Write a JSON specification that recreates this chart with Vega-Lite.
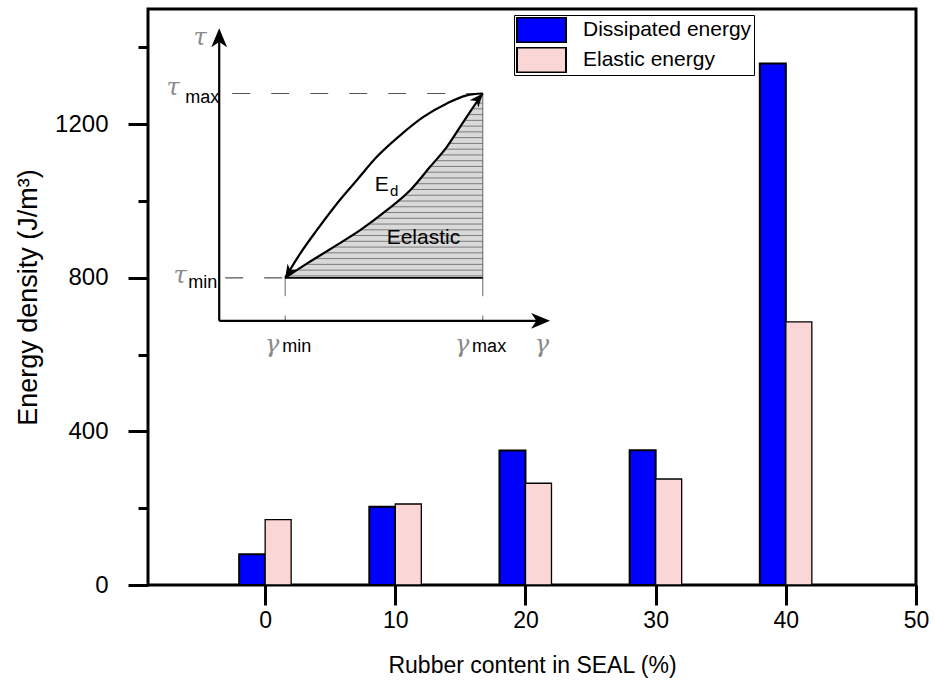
{
  "$schema": "https://vega.github.io/schema/vega-lite/v6.json",
  "width": 768,
  "height": 576,
  "autosize": {"type": "none"},
  "padding": {"left": 148, "top": 9, "right": 18, "bottom": 104},
  "config": {
    "view": {"stroke": "black", "strokeWidth": 3},
    "font": "Liberation Sans"
  },
  "datasets": {
    "bars": [
      {"rubber": 0, "series": "Dissipated energy", "energy": 80},
      {"rubber": 10, "series": "Dissipated energy", "energy": 204},
      {"rubber": 20, "series": "Dissipated energy", "energy": 350},
      {"rubber": 30, "series": "Dissipated energy", "energy": 351},
      {"rubber": 40, "series": "Dissipated energy", "energy": 1358},
      {"rubber": 0, "series": "Elastic energy", "energy": 170},
      {"rubber": 10, "series": "Elastic energy", "energy": 211},
      {"rubber": 20, "series": "Elastic energy", "energy": 265},
      {"rubber": 30, "series": "Elastic energy", "energy": 276},
      {"rubber": 40, "series": "Elastic energy", "energy": 685}
    ],
    "curves": [
      {"curve": "upper", "gx": 1.54, "gy": 800},
      {"curve": "upper", "gx": 2.69, "gy": 863},
      {"curve": "upper", "gx": 3.97, "gy": 924},
      {"curve": "upper", "gx": 5.51, "gy": 993},
      {"curve": "upper", "gx": 7.04, "gy": 1054},
      {"curve": "upper", "gx": 8.58, "gy": 1115},
      {"curve": "upper", "gx": 10.37, "gy": 1171},
      {"curve": "upper", "gx": 12.16, "gy": 1219},
      {"curve": "upper", "gx": 13.96, "gy": 1254},
      {"curve": "upper", "gx": 15.49, "gy": 1275},
      {"curve": "upper", "gx": 16.72, "gy": 1280},
      {"curve": "lower", "gx": 1.54, "gy": 800},
      {"curve": "lower", "gx": 3.2, "gy": 837},
      {"curve": "lower", "gx": 5.25, "gy": 880},
      {"curve": "lower", "gx": 7.3, "gy": 924},
      {"curve": "lower", "gx": 9.35, "gy": 976},
      {"curve": "lower", "gx": 11.14, "gy": 1028},
      {"curve": "lower", "gx": 12.67, "gy": 1089},
      {"curve": "lower", "gx": 13.96, "gy": 1141},
      {"curve": "lower", "gx": 14.98, "gy": 1193},
      {"curve": "lower", "gx": 16.0, "gy": 1245},
      {"curve": "lower", "gx": 16.72, "gy": 1280}
    ],
    "hatch": [
      {"hy": 805, "hx": 1.76}, {"hy": 820, "hx": 2.44}, {"hy": 835, "hx": 3.11},
      {"hy": 850, "hx": 3.82}, {"hy": 865, "hx": 4.54}, {"hy": 880, "hx": 5.25},
      {"hy": 895, "hx": 5.95}, {"hy": 910, "hx": 6.65}, {"hy": 925, "hx": 7.34},
      {"hy": 940, "hx": 7.93}, {"hy": 955, "hx": 8.52}, {"hy": 970, "hx": 9.11},
      {"hy": 985, "hx": 9.66}, {"hy": 1000, "hx": 10.18}, {"hy": 1015, "hx": 10.69},
      {"hy": 1030, "hx": 11.19}, {"hy": 1045, "hx": 11.57}, {"hy": 1060, "hx": 11.94},
      {"hy": 1075, "hx": 12.32}, {"hy": 1090, "hx": 12.69}, {"hy": 1105, "hx": 13.07},
      {"hy": 1120, "hx": 13.44}, {"hy": 1135, "hx": 13.81}, {"hy": 1150, "hx": 14.14},
      {"hy": 1165, "hx": 14.43}, {"hy": 1180, "hx": 14.72}, {"hy": 1195, "hx": 15.02},
      {"hy": 1210, "hx": 15.31}, {"hy": 1225, "hx": 15.61}, {"hy": 1240, "hx": 15.9},
      {"hy": 1255, "hx": 16.21}, {"hy": 1270, "hx": 16.52}
    ]
  },
  "layer": [
    {
      "data": {"name": "bars"},
      "transform": [{"filter": "datum.series === 'Dissipated energy'"}],
      "mark": {"type": "bar", "orient": "vertical", "width": 26, "xOffset": -13, "stroke": "black", "strokeWidth": 2},
      "encoding": {
        "x": {
          "field": "rubber",
          "type": "quantitative",
          "scale": {"domain": [-9, 50], "nice": false, "zero": false, "padding": 0},
          "axis": {
            "values": [0, 10, 20, 30, 40, 50],
            "format": "d",
            "domain": false,
            "grid": false,
            "tickSize": 20,
            "tickWidth": 3,
            "tickColor": "black",
            "labelFontSize": 23,
            "labelColor": "black",
            "labelPadding": 4,
            "labelFlush": false,
            "labelOverlap": false,
            "title": "Rubber content in SEAL (%)",
            "titleFontSize": 23,
            "titleFontWeight": "normal",
            "titleColor": "black",
            "titlePadding": 22
          }
        },
        "y": {
          "field": "energy",
          "type": "quantitative",
          "scale": {"domain": [0, 1500], "nice": false, "zero": true, "padding": 0},
          "axis": {
            "values": [0, 200, 400, 600, 800, 1000, 1200, 1400],
            "format": "d",
            "domain": false,
            "grid": false,
            "tickSize": {"condition": {"test": "datum.value % 400 === 0", "value": 20}, "value": 10},
            "tickWidth": 3,
            "tickColor": "black",
            "labelExpr": "datum.value % 400 === 0 ? datum.label : ''",
            "labelFontSize": 24,
            "labelColor": "black",
            "labelPadding": 20,
            "labelOverlap": false,
            "title": "Energy density (J/m³)",
            "titleFontSize": 27,
            "titleFontWeight": "normal",
            "titleColor": "black",
            "titlePadding": 12
          }
        },
        "color": {
          "field": "series",
          "type": "nominal",
          "scale": {"domain": ["Dissipated energy", "Elastic energy"], "range": ["#0000ff", "#fbd6d6"]},
          "legend": {
            "title": null,
            "orient": "none",
            "legendX": 366,
            "legendY": 6,
            "symbolType": "M-1,-0.51H1V0.51H-1Z",
            "symbolSize": 2401,
            "symbolStrokeColor": "black",
            "symbolStrokeWidth": 2,
            "symbolOpacity": 1,
            "clipHeight": 26,
            "labelFontSize": 21,
            "labelColor": "black",
            "labelOffset": 16,
            "labelLimit": 400,
            "padding": 2,
            "rowPadding": 4,
            "strokeColor": "black",
            "fillColor": "white"
          }
        }
      }
    },
    {
      "data": {"name": "bars"},
      "transform": [{"filter": "datum.series === 'Elastic energy'"}],
      "mark": {"type": "bar", "orient": "vertical", "width": 26, "xOffset": 13, "stroke": "black", "strokeWidth": 1.3},
      "encoding": {
        "x": {"field": "rubber", "type": "quantitative"},
        "y": {"field": "energy", "type": "quantitative"},
        "color": {"field": "series", "type": "nominal"}
      }
    },
    {
      "data": {"name": "curves"},
      "transform": [{"filter": "datum.curve === 'lower'"}],
      "mark": {"type": "area", "orient": "horizontal", "interpolate": "monotone", "fill": "#d9d9d9"},
      "encoding": {
        "x": {"field": "gx", "type": "quantitative"},
        "x2": {"datum": 16.72},
        "y": {"field": "gy", "type": "quantitative"}
      }
    },
    {
      "data": {"name": "hatch"},
      "mark": {"type": "rule", "stroke": "#7c7c7c", "strokeWidth": 1},
      "encoding": {
        "x": {"field": "hx", "type": "quantitative"},
        "x2": {"datum": 16.72},
        "y": {"field": "hy", "type": "quantitative"}
      }
    },
    {
      "data": {"values": [
        {"gx": -2.53, "gx2": 16.4, "gy": 1280, "gy2": 1280},
        {"gx": -3.07, "gx2": 1.4, "gy": 800, "gy2": 800}
      ]},
      "mark": {"type": "rule", "stroke": "#555555", "strokeWidth": 1.2, "strokeDash": [18, 21]},
      "encoding": {
        "x": {"field": "gx", "type": "quantitative"},
        "x2": {"field": "gx2"},
        "y": {"field": "gy", "type": "quantitative"},
        "y2": {"field": "gy2"}
      }
    },
    {
      "data": {"values": [
        {"gx": 1.54, "gx2": 1.54, "gy": 752, "gy2": 800},
        {"gx": 16.72, "gx2": 16.72, "gy": 752, "gy2": 1280},
        {"gx": 1.54, "gx2": 1.54, "gy": 688, "gy2": 702},
        {"gx": 16.72, "gx2": 16.72, "gy": 688, "gy2": 702}
      ]},
      "mark": {"type": "rule", "stroke": "#666666", "strokeWidth": 1},
      "encoding": {
        "x": {"field": "gx", "type": "quantitative"},
        "x2": {"field": "gx2"},
        "y": {"field": "gy", "type": "quantitative"},
        "y2": {"field": "gy2"}
      }
    },
    {
      "data": {"values": [
        {"gx": 1.54, "gx2": 16.72, "gy": 800, "gy2": 800}
      ]},
      "mark": {"type": "rule", "stroke": "black", "strokeWidth": 1.8},
      "encoding": {
        "x": {"field": "gx", "type": "quantitative"},
        "x2": {"field": "gx2"},
        "y": {"field": "gy", "type": "quantitative"},
        "y2": {"field": "gy2"}
      }
    },
    {
      "data": {"values": [
        {"gx": -3.53, "gx2": -3.53, "gy": 688, "gy2": 1420},
        {"gx": -3.53, "gx2": 20.9, "gy": 688, "gy2": 688}
      ]},
      "mark": {"type": "rule", "stroke": "black", "strokeWidth": 2.2},
      "encoding": {
        "x": {"field": "gx", "type": "quantitative"},
        "x2": {"field": "gx2"},
        "y": {"field": "gy", "type": "quantitative"},
        "y2": {"field": "gy2"}
      }
    },
    {
      "data": {"name": "curves"},
      "mark": {"type": "line", "interpolate": "monotone", "stroke": "black", "strokeWidth": 2.2},
      "encoding": {
        "x": {"field": "gx", "type": "quantitative"},
        "y": {"field": "gy", "type": "quantitative"},
        "detail": {"field": "curve"}
      }
    },
    {
      "data": {"values": [{"gx": -3.53, "gy": 1450}]},
      "mark": {"type": "point", "shape": "M0,0L0.75,1.8L0,1.3L-0.75,1.8Z", "size": 445, "filled": true, "color": "black", "opacity": 1, "angle": 0},
      "encoding": {
        "x": {"field": "gx", "type": "quantitative"},
        "y": {"field": "gy", "type": "quantitative"}
      }
    },
    {
      "data": {"values": [{"gx": 21.89, "gy": 688}]},
      "mark": {"type": "point", "shape": "M0,0L0.75,1.8L0,1.3L-0.75,1.8Z", "size": 445, "filled": true, "color": "black", "opacity": 1, "angle": 90},
      "encoding": {
        "x": {"field": "gx", "type": "quantitative"},
        "y": {"field": "gy", "type": "quantitative"}
      }
    },
    {
      "data": {"values": [{"gx": 16.72, "gy": 1280}]},
      "mark": {"type": "point", "shape": "M0,0L0.75,1.8L0,1.3L-0.75,1.8Z", "size": 230, "filled": true, "color": "black", "opacity": 1, "angle": 40},
      "encoding": {
        "x": {"field": "gx", "type": "quantitative"},
        "y": {"field": "gy", "type": "quantitative"}
      }
    },
    {
      "data": {"values": [{"gx": 1.54, "gy": 800}]},
      "mark": {"type": "point", "shape": "M0,0L0.75,1.8L0,1.3L-0.75,1.8Z", "size": 210, "filled": true, "color": "black", "opacity": 1, "angle": 212},
      "encoding": {
        "x": {"field": "gx", "type": "quantitative"},
        "y": {"field": "gy", "type": "quantitative"}
      }
    },
    {
      "data": {"values": [
        {"t": "τ", "gx": -4.99, "gy": 1424},
        {"t": "τ", "gx": -7.07, "gy": 1294},
        {"t": "τ", "gx": -6.53, "gy": 804},
        {"t": "γ", "gx": 0.54, "gy": 625},
        {"t": "γ", "gx": 15.13, "gy": 625},
        {"t": "γ", "gx": 21.27, "gy": 625}
      ]},
      "mark": {"type": "text", "font": "DejaVu Serif", "fontStyle": "italic", "fontSize": 24, "color": "#8a8a8a", "align": "center", "baseline": "middle"},
      "encoding": {
        "x": {"field": "gx", "type": "quantitative"},
        "y": {"field": "gy", "type": "quantitative"},
        "text": {"field": "t"}
      }
    },
    {
      "data": {"values": [
        {"t": "max", "gx": -6.14, "gy": 1268},
        {"t": "min", "gx": -5.91, "gy": 786},
        {"t": "min", "gx": 1.31, "gy": 619},
        {"t": "max", "gx": 15.9, "gy": 619}
      ]},
      "mark": {"type": "text", "fontSize": 18, "color": "black", "align": "left", "baseline": "middle"},
      "encoding": {
        "x": {"field": "gx", "type": "quantitative"},
        "y": {"field": "gy", "type": "quantitative"},
        "text": {"field": "t"}
      }
    },
    {
      "data": {"values": [
        {"t": "E", "gx": 8.95, "gy": 1042},
        {"t": "Eelastic", "gx": 12.16, "gy": 903}
      ]},
      "mark": {"type": "text", "fontSize": 21, "color": "black", "align": "center", "baseline": "middle"},
      "encoding": {
        "x": {"field": "gx", "type": "quantitative"},
        "y": {"field": "gy", "type": "quantitative"},
        "text": {"field": "t"}
      }
    },
    {
      "data": {"values": [
        {"t": "d", "gx": 9.91, "gy": 1025}
      ]},
      "mark": {"type": "text", "fontSize": 15, "color": "black", "align": "center", "baseline": "middle"},
      "encoding": {
        "x": {"field": "gx", "type": "quantitative"},
        "y": {"field": "gy", "type": "quantitative"},
        "text": {"field": "t"}
      }
    }
  ]
}
